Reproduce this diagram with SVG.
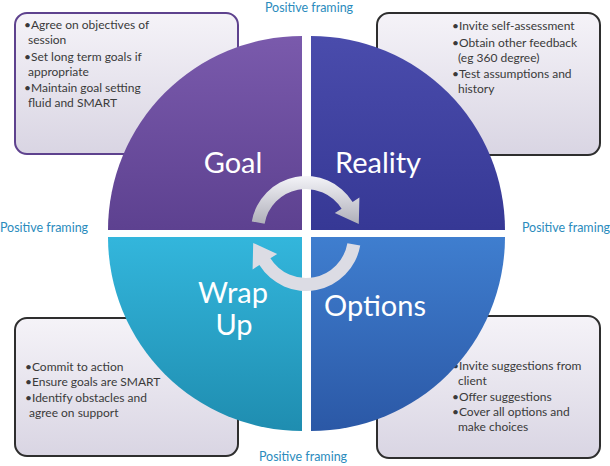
<svg xmlns="http://www.w3.org/2000/svg" width="610" height="466" viewBox="0 0 610 466">
<defs>
<linearGradient id="gBox" x1="0" y1="0" x2="0" y2="1">
<stop offset="0" stop-color="#f5f3f8"/>
<stop offset="1" stop-color="#d9d5e3"/>
</linearGradient>
<linearGradient id="gGoal" x1="0" y1="0" x2="0" y2="1">
<stop offset="0" stop-color="#7a5aac"/>
<stop offset="1" stop-color="#5d4190"/>
</linearGradient>
<linearGradient id="gReality" x1="0" y1="0" x2="0" y2="1">
<stop offset="0" stop-color="#4a4cac"/>
<stop offset="1" stop-color="#363895"/>
</linearGradient>
<linearGradient id="gWrap" x1="0" y1="0" x2="0" y2="1">
<stop offset="0" stop-color="#33b6dc"/>
<stop offset="1" stop-color="#1f8db0"/>
</linearGradient>
<linearGradient id="gOptions" x1="0" y1="0" x2="0" y2="1">
<stop offset="0" stop-color="#3f7ecf"/>
<stop offset="1" stop-color="#2b58a6"/>
</linearGradient>
<linearGradient id="gArrowTop" gradientUnits="userSpaceOnUse" x1="0" y1="176" x2="0" y2="228">
<stop offset="0" stop-color="#f4f4f8"/>
<stop offset="1" stop-color="#a9a9b4"/>
</linearGradient>
<linearGradient id="gArrowBot" gradientUnits="userSpaceOnUse" x1="0" y1="242" x2="0" y2="290">
<stop offset="0" stop-color="#dcdce4"/>
<stop offset="1" stop-color="#aeaeb8"/>
</linearGradient>
<style>
.box{fill:url(#gBox);stroke:#2e2e2e;stroke-width:2}
.bt{font-family:Lato,"Liberation Sans",sans-serif;font-size:12px;fill:#3a3a3a}
.big{font-family:Lato,"Liberation Sans",sans-serif;font-size:29px;fill:#ffffff;text-anchor:middle}
.pf{font-family:Lato,"Liberation Sans",sans-serif;font-size:12.5px;fill:#2b8bbd;text-anchor:middle}
</style>
</defs>

<g id="box-goal">
<rect class="box" x="15" y="13" width="223" height="141" rx="12" style="stroke:#5e428e"/>
<text class="bt" x="24" y="29">•Agree on objectives of</text>
<text class="bt" x="28" y="44">session</text>
<text class="bt" x="24" y="61">•Set long term goals if</text>
<text class="bt" x="28" y="76">appropriate</text>
<text class="bt" x="24" y="92">•Maintain goal setting</text>
<text class="bt" x="28" y="107">fluid and SMART</text>
</g>

<g id="box-reality">
<rect class="box" x="377" y="13" width="223" height="142" rx="12"/>
<text class="bt" x="452" y="30">•Invite self-assessment</text>
<text class="bt" x="452" y="47">•Obtain other feedback</text>
<text class="bt" x="458" y="62">(eg 360 degree)</text>
<text class="bt" x="452" y="78">•Test assumptions and</text>
<text class="bt" x="458" y="93">history</text>
</g>

<g id="box-wrapup">
<rect class="box" x="15" y="318" width="223" height="138" rx="12"/>
<text class="bt" x="25" y="371">•Commit to action</text>
<text class="bt" x="25" y="386">•Ensure goals are SMART</text>
<text class="bt" x="25" y="402">•Identify obstacles and</text>
<text class="bt" x="29" y="417">agree on support</text>
</g>

<g id="box-options">
<rect class="box" x="377" y="316" width="223" height="142" rx="12"/>
<text class="bt" x="452" y="370">•Invite suggestions from</text>
<text class="bt" x="458" y="385">client</text>
<text class="bt" x="452" y="401">•Offer suggestions</text>
<text class="bt" x="452" y="416">•Cover all options and</text>
<text class="bt" x="458" y="431">make choices</text>
</g>

<g id="goal">
<path d="M302,230 L108,230 A194,194 0 0 1 302,36 Z" fill="url(#gGoal)"/>
<text class="big" x="233" y="173">Goal</text>
</g>

<g id="reality">
<path d="M311,230 L311,36 A194,194 0 0 1 505,230 Z" fill="url(#gReality)"/>
<text class="big" x="378" y="173">Reality</text>
</g>

<g id="options">
<path d="M311,237 L505,237 A194,194 0 0 1 311,431 Z" fill="url(#gOptions)"/>
<text class="big" x="375" y="316">Options</text>
</g>

<g id="wrapup">
<path d="M302,237 L302,431 A194,194 0 0 1 108,237 Z" fill="url(#gWrap)"/>
<text class="big" x="233" y="303">Wrap</text>
<text class="big" x="234" y="335">Up</text>
</g>

<g id="connectors">
<path d="M251.8,221.4 A55,55 0 0 1 352.6,201.9 L359.4,197.6 L358.8,224 L334.8,213 L341.6,208.7 A42,42 0 0 0 264.6,223.7 Z" fill="url(#gArrowTop)"/>
<path d="M251.8,221.4 A55,55 0 0 1 352.6,201.9 L359.4,197.6 L358.8,224 L334.8,213 L341.6,208.7 A42,42 0 0 0 264.6,223.7 Z" fill="url(#gArrowBot)" transform="rotate(180 306 233.5)"/>
</g>

<g id="labels">
<text class="pf" x="309" y="12">Positive framing</text>
<text class="pf" x="44" y="232">Positive framing</text>
<text class="pf" x="566" y="232">Positive framing</text>
<text class="pf" x="303" y="461">Positive framing</text>
</g>
</svg>
